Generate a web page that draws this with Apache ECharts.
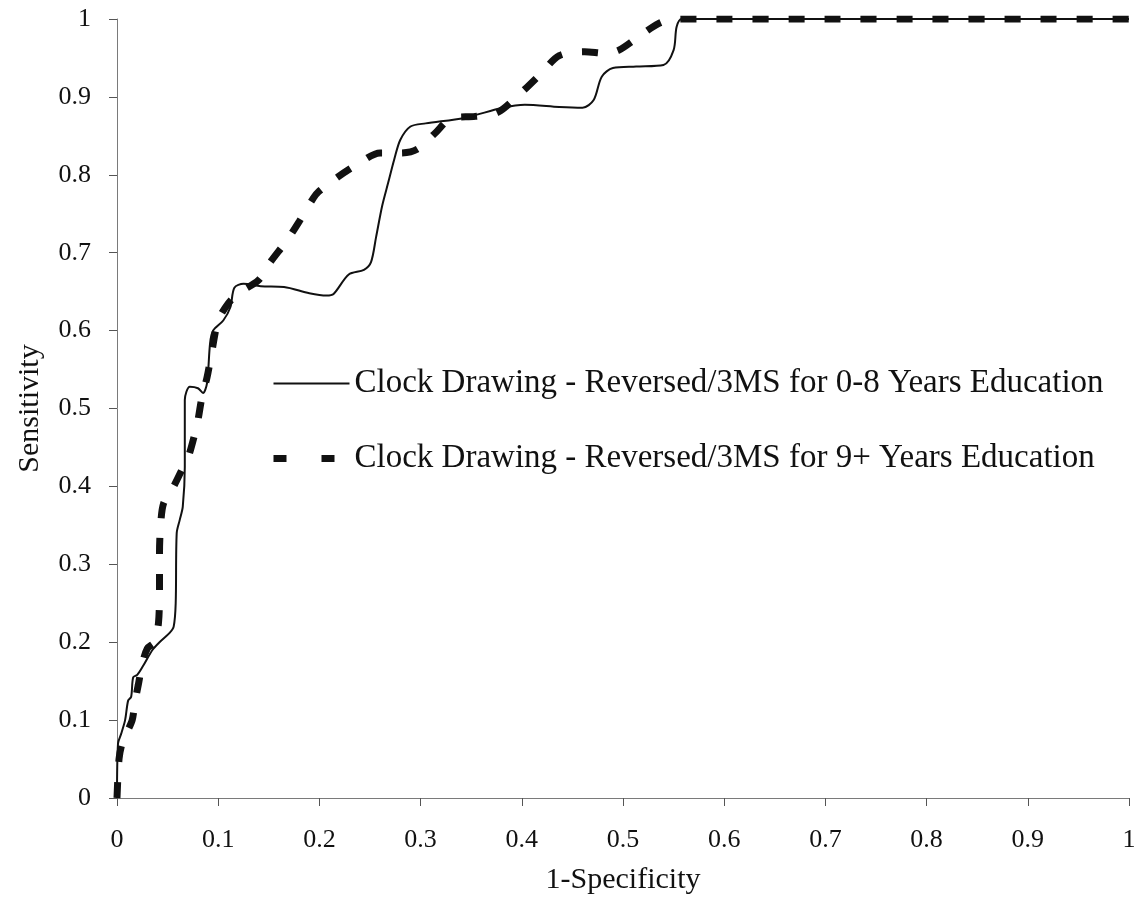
<!DOCTYPE html>
<html>
<head>
<meta charset="utf-8">
<script src="https://cdn.jsdelivr.net/npm/echarts@6/dist/echarts.min.js"></script>
<style>
  html, body { margin: 0; padding: 0; background: #fff; }
  #chart { width: 1145px; height: 911px; }
</style>
</head>
<body>
<div id="chart"></div>
<script>
// ROC curves: Clock Drawing - Reversed/3MS by education level
const seriesNames = [
  'Clock Drawing - Reversed/3MS for 0-8 Years Education',
  'Clock Drawing - Reversed/3MS for 9+ Years Education'
];

// 0-8 years education (solid)
const lowEduFpr = [0, 0.001, 0.004, 0.008, 0.011, 0.014, 0.016, 0.02, 0.026, 0.035,
  0.042, 0.052, 0.056, 0.058, 0.059, 0.062, 0.065, 0.067, 0.067, 0.072,
  0.08, 0.085, 0.089, 0.092, 0.095, 0.105, 0.112, 0.116, 0.125, 0.142,
  0.165, 0.19, 0.207, 0.214, 0.229, 0.244, 0.251, 0.256, 0.262, 0.268,
  0.274, 0.28, 0.29, 0.305, 0.343, 0.381, 0.403, 0.437, 0.46, 0.471,
  0.479, 0.49, 0.513, 0.54, 0.55, 0.553, 0.558, 0.6, 0.7, 0.8, 0.9, 1];
const lowEduTpr = [0, 0.07, 0.082, 0.1, 0.125, 0.13, 0.155, 0.158, 0.17, 0.19,
  0.2, 0.212, 0.22, 0.25, 0.34, 0.357, 0.374, 0.425, 0.511, 0.528,
  0.526, 0.52, 0.533, 0.584, 0.6, 0.613, 0.63, 0.655, 0.66, 0.657,
  0.656, 0.648, 0.645, 0.647, 0.672, 0.678, 0.688, 0.72, 0.76, 0.79,
  0.82, 0.845, 0.862, 0.866, 0.873, 0.886, 0.89, 0.887, 0.886, 0.896,
  0.926, 0.937, 0.939, 0.941, 0.96, 0.99, 1, 1, 1, 1, 1, 1];

// 9+ years education (dashed)
const highEduFpr = [0, 0.002, 0.005, 0.01, 0.015, 0.018, 0.021, 0.025, 0.03, 0.037,
  0.041, 0.042, 0.042, 0.043, 0.046, 0.056, 0.064, 0.07, 0.077, 0.08,
  0.084, 0.089, 0.094, 0.1, 0.11, 0.12, 0.14, 0.151, 0.168, 0.18,
  0.194, 0.199, 0.218, 0.237, 0.26, 0.281, 0.297, 0.314, 0.331, 0.354,
  0.376, 0.399, 0.419, 0.437, 0.462, 0.483, 0.496, 0.513, 0.535, 0.551,
  0.57, 0.7, 0.8, 0.9, 1];
const highEduTpr = [0, 0.05, 0.07, 0.085, 0.1, 0.125, 0.145, 0.172, 0.192, 0.2,
  0.225, 0.27, 0.314, 0.348, 0.378, 0.4, 0.421, 0.436, 0.468, 0.485,
  0.515, 0.54, 0.575, 0.613, 0.635, 0.648, 0.665, 0.687, 0.716, 0.74,
  0.77, 0.778, 0.797, 0.813, 0.828, 0.828, 0.833, 0.853, 0.873, 0.875,
  0.88, 0.905, 0.93, 0.953, 0.958, 0.956, 0.96, 0.975, 0.994, 1,
  1, 1, 1, 1, 1];

const tickLabels = ['0', '0.1', '0.2', '0.3', '0.4', '0.5', '0.6', '0.7', '0.8', '0.9', '1'];

const pairs = (xs, ys) => xs.map((x, i) => [x, ys[i]]);
const serif = '"Liberation Serif", "DejaVu Serif", serif';
const labelFmt = v => tickLabels[Math.round(v * 10)];

const axisCommon = {
  type: 'value',
  min: 0,
  max: 1,
  interval: 0.1,
  splitLine: { show: false },
  axisLine: { show: true, lineStyle: { color: '#7a7a7a', width: 1 } },
  axisTick: { show: true, length: 8, lineStyle: { color: '#555', width: 1 } },
  axisLabel: { fontFamily: serif, fontSize: 26, color: '#111', formatter: labelFmt },
  nameTextStyle: { fontFamily: serif, fontSize: 30, color: '#111' }
};

const chart = echarts.init(document.getElementById('chart'));
chart.setOption({
  backgroundColor: '#fff',
  animation: false,
  grid: { left: 117, right: 16, top: 19, bottom: 113 },
  xAxis: Object.assign({}, axisCommon, {
    name: '1-Specificity',
    nameLocation: 'middle',
    nameGap: 67,
    axisLabel: Object.assign({}, axisCommon.axisLabel, { margin: 29 })
  }),
  yAxis: Object.assign({}, axisCommon, {
    name: 'Sensitivity',
    nameLocation: 'middle',
    nameGap: 72,
    axisLabel: Object.assign({}, axisCommon.axisLabel, { margin: 26 })
  }),
  legend: {
    orient: 'vertical',
    left: 270,
    top: 367,
    padding: 0,
    itemWidth: 76,
    itemHeight: 14,
    itemGap: 42,
    itemStyle: { opacity: 0 },
    textStyle: { fontFamily: serif, fontSize: 33, color: '#111' },
    data: [
      { name: seriesNames[0] },
      { name: seriesNames[1], lineStyle: { type: [13, 35], width: 7 } }
    ]
  },
  series: [
    {
      name: seriesNames[1],
      type: 'line',
      data: pairs(highEduFpr, highEduTpr),
      showSymbol: false,
      symbol: 'none',
      smooth: 0.3,
      itemStyle: { color: '#111' },
      lineStyle: { color: '#111', width: 7, type: [16, 20], cap: 'butt' },
      z: 2
    },
    {
      name: seriesNames[0],
      type: 'line',
      data: pairs(lowEduFpr, lowEduTpr),
      showSymbol: false,
      symbol: 'none',
      smooth: 0.3,
      itemStyle: { color: '#111' },
      lineStyle: { color: '#111', width: 2 },
      z: 3
    }
  ]
});
</script>
</body>
</html>
